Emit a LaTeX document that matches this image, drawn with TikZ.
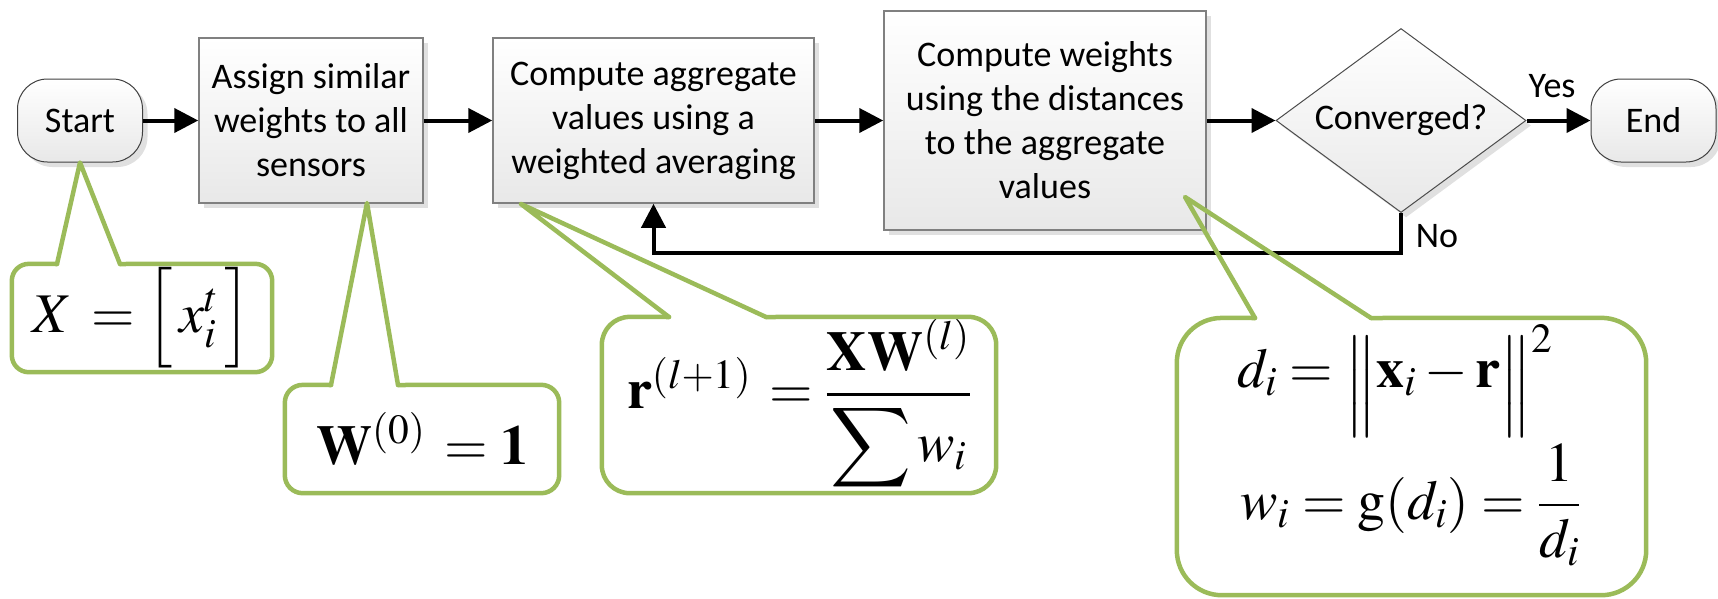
\documentclass[tikz,border=0pt]{standalone}
\usepackage{amsmath}
\usepackage{mathptmx}
\DeclareFontFamily{OMX}{cmex}{}
\DeclareFontShape{OMX}{cmex}{m}{n}{<->cmex10}{}
\DeclareSymbolFont{cmlarge}{OMX}{cmex}{m}{n}
\DeclareMathSymbol{\bigsumop}{\mathop}{cmlarge}{"58}
\DeclareMathDelimiter{\nrmbar}{\mathord}{cmlarge}{"0D}{cmlarge}{"0D}
\newcommand{\lowbar}{\lower14pt\hbox{$\Big\nrmbar$}}
\usepackage[no-math]{fontspec}
\setmainfont{Carlito}
\usetikzlibrary{shapes.geometric,arrows.meta,shadows}
\definecolor{cgreen}{HTML}{9BBB59}
\definecolor{boxline}{HTML}{808080}
\tikzset{
  flow/.style={draw=boxline, line width=1.5pt, top color=white, bottom color=black!9,
    align=center, font=\fontsize{36}{44}\selectfont, inner sep=0pt,
    general shadow={fill=black!12, shadow xshift=5pt, shadow yshift=-5pt}},
  procbox/.style={flow, rectangle},
  termbox/.style={flow, rectangle, rounded corners=30pt, draw=black!75, line width=1pt,
    minimum width=125pt, minimum height=83pt},
  decbox/.style={flow, diamond, aspect=1.36, draw=black!70, line width=1pt,
    minimum width=250pt, minimum height=184pt},
  conn/.style={line width=4pt, -{Triangle[length=24pt,width=24pt]}},
  lbl/.style={font=\fontsize{36}{44}\selectfont, inner sep=0pt},
  cbox/.style={rectangle, inner sep=0pt, font=\fontsize{56}{60}\selectfont},
  cedge/.style={draw=cgreen, line width=4.5pt, rounded corners=#1, line cap=round},
  cptr/.style={draw=cgreen, line width=4.5pt, line join=round, line cap=round},
  mathlbl/.style={inner sep=0pt, font=\fontsize{56}{60}\selectfont},
}
\begin{document}
\begin{tikzpicture}[x=1pt,y=-1pt]
\useasboundingbox (0,0) rectangle (1718,598);

% flowchart
\node[termbox] (start) at (80,120.5) {Start};
\node[procbox, minimum width=224pt, minimum height=165pt] (assign) at (311,120.5)
  {Assign similar\\weights to all\\sensors};
\node[procbox, minimum width=321pt, minimum height=165pt] (agg) at (653.5,120.5)
  {Compute aggregate\\values using a\\weighted averaging};
\node[procbox, minimum width=322pt, minimum height=219pt] (wts) at (1045,120.5)
  {Compute weights\\using the distances\\to the aggregate\\values};
\node[decbox] (conv) at (1401,120.5) {Converged?};
\node[termbox] (end) at (1653.5,120.5) {End};

\draw[conn] (start) -- (assign);
\draw[conn] (assign) -- (agg);
\draw[conn] (agg) -- (wts);
\draw[conn] (wts) -- (conv);
\draw[conn] (conv.east) -- (end.west);
\draw[conn] (conv.south) -- ++(0,39.5) -| (agg.south);

\node[lbl] (yes) at (1552,86) {Yes};
\node[lbl] (no) at (1437,236) {No};

% callout 1
\node[cbox, minimum width=260pt, minimum height=108pt] (c1) at (142,318)
  {$X\,=\Big[\,x_i^{t}\,\Big]$};
\coordinate (c1a) at (57,264);
\coordinate (c1b) at (120,264);
\draw[cedge=17pt] (c1a) -- (c1.north west) -- (c1.south west) -- (c1.south east) -- (c1.north east) -- (c1b);
\draw[cptr] (c1a) -- (start.south) -- (c1b);

% callout 2
\node[cbox, minimum width=274pt, minimum height=108pt] (c2) at (422,439)
  {$\mathbf{W}^{(0)}\,=\mathbf{1}$};
\coordinate (c2tip) at (367,203);
\coordinate (c2a) at (331,385);
\coordinate (c2b) at (398,385);
\draw[cedge=18pt] (c2a) -- (c2.north west) -- (c2.south west) -- (c2.south east) -- (c2.north east) -- (c2b);
\draw[cptr] (c2a) -- (c2tip) -- (c2b);

% callout 3
\node[cbox, minimum width=394pt, minimum height=176pt] (c3) at (799,405)
  {$\mathbf{r}^{(l+1)}\,=\dfrac{\mathbf{XW}^{(l)}}{\bigsumop w_i}$};
\coordinate (c3tip) at (521,204);
\coordinate (c3a) at (669,317);
\coordinate (c3b) at (766,317);
\draw[cedge=28pt] (c3a) -- (c3.north west) -- (c3.south west) -- (c3.south east) -- (c3.north east) -- (c3b);
\draw[cptr] (c3a) -- (c3tip) -- (c3b);

% callout 4
\node[cbox, minimum width=469pt, minimum height=277pt] (c4) at (1411.5,456.5) {};
\node[mathlbl, anchor=base west] (c4l1) at (1237,387)
  {$d_i=\mathord{\lowbar}\mathbf{x}_i-\mathbf{r}{\lowbar}^{2}$};
\node[mathlbl, anchor=base west] (c4l2) at (1240,519)
  {$w_i=\mathrm{g}(d_i)=\dfrac{1}{d_i}$};
\coordinate (c4tip) at (1185,197);
\coordinate (c4a) at (1255,318);
\coordinate (c4b) at (1371,318);
\draw[cedge=45pt] (c4a) -- (c4.north west) -- (c4.south west) -- (c4.south east) -- (c4.north east) -- (c4b);
\draw[cptr] (c4a) -- (c4tip) -- (c4b);
\end{tikzpicture}
\end{document}
